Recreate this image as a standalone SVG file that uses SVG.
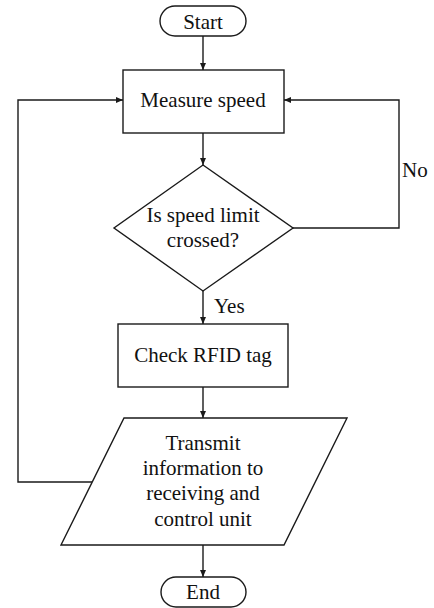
<svg xmlns="http://www.w3.org/2000/svg" width="434" height="608" viewBox="0 0 434 608" font-family="Liberation Serif, Times New Roman, serif">
<defs>
<marker id="arr" markerWidth="8" markerHeight="8" refX="7" refY="4" orient="auto" markerUnits="userSpaceOnUse">
<path d="M0,1 L7,4 L0,7 Z" fill="#1a1a1a"/>
</marker>
</defs>
<rect width="434" height="608" fill="#fff"/>
<g id="connectors" fill="none" stroke="#1a1a1a" stroke-width="1.4">
<path d="M203,36 V70" marker-end="url(#arr)"/>
<path d="M203,133 V165" marker-end="url(#arr)"/>
<path d="M203,291 V324" marker-end="url(#arr)"/>
<path d="M203,387 V418" marker-end="url(#arr)"/>
<path d="M203,545 V577" marker-end="url(#arr)"/>
<path d="M293,228 H399 V100 H284" marker-end="url(#arr)"/>
<path d="M92,482 H18 V100 H123" marker-end="url(#arr)"/>
</g>
<g id="labels" font-family="Liberation Serif" font-size="21" fill="#111">
<text x="402" y="177">No</text>
<text x="214" y="313">Yes</text>
</g>
<g id="start">
<rect x="160" y="6" width="86" height="30" rx="15" fill="#fff" stroke="#1a1a1a" stroke-width="1.4"/>
<text font-family="Liberation Serif" font-size="21" fill="#111" text-anchor="middle" x="203" y="29">Start</text>
</g>
<g id="measure">
<rect x="123" y="70" width="161" height="63" fill="#fff" stroke="#1a1a1a" stroke-width="1.4"/>
<text font-family="Liberation Serif" font-size="21" fill="#111" text-anchor="middle" x="203" y="107">Measure speed</text>
</g>
<g id="decision">
<polygon points="203,165 293,228 203,291 114,228" fill="#fff" stroke="#1a1a1a" stroke-width="1.4"/>
<text font-family="Liberation Serif" font-size="21" fill="#111" text-anchor="middle" x="203" y="222">Is speed limit</text>
<text font-family="Liberation Serif" font-size="21" fill="#111" text-anchor="middle" x="203" y="247">crossed?</text>
</g>
<g id="check">
<rect x="118" y="324" width="170" height="63" fill="#fff" stroke="#1a1a1a" stroke-width="1.4"/>
<text font-family="Liberation Serif" font-size="21" fill="#111" text-anchor="middle" x="203" y="362">Check RFID tag</text>
</g>
<g id="transmit">
<polygon points="124,418 347,418 284,545 61,545" fill="#fff" stroke="#1a1a1a" stroke-width="1.4"/>
<text font-family="Liberation Serif" font-size="21" fill="#111" text-anchor="middle" x="203" y="450">Transmit</text>
<text font-family="Liberation Serif" font-size="21" fill="#111" text-anchor="middle" x="203" y="475">information to</text>
<text font-family="Liberation Serif" font-size="21" fill="#111" text-anchor="middle" x="203" y="500">receiving and</text>
<text font-family="Liberation Serif" font-size="21" fill="#111" text-anchor="middle" x="203" y="526">control unit</text>
</g>
<g id="end">
<rect x="161" y="577" width="85" height="30" rx="15" fill="#fff" stroke="#1a1a1a" stroke-width="1.4"/>
<text font-family="Liberation Serif" font-size="21" fill="#111" text-anchor="middle" x="203" y="599">End</text>
</g>
</svg>
